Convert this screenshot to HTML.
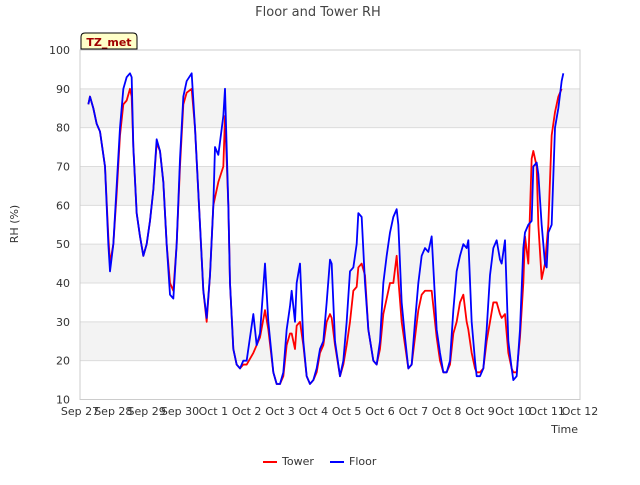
<!DOCTYPE html>
<html><head><meta charset="utf-8"><style>
body{margin:0;background:#fff;font-family:"Liberation Sans","DejaVu Sans",sans-serif;}
svg text{font-family:"DejaVu Sans","Liberation Sans",sans-serif;}
</style></head><body>
<svg id="c" width="640" height="480"></svg>
<script>
const times=[0.25,0.3,0.4,0.5,0.6,0.75,0.85,0.9,1.0,1.1,1.2,1.3,1.4,1.5,1.55,1.6,1.7,1.8,1.9,2.0,2.1,2.2,2.3,2.4,2.5,2.6,2.7,2.8,2.9,3.0,3.1,3.2,3.35,3.45,3.6,3.7,3.8,3.9,4.0,4.05,4.15,4.3,4.35,4.45,4.5,4.6,4.7,4.8,4.9,5.0,5.2,5.3,5.4,5.55,5.65,5.8,5.9,6.0,6.1,6.2,6.3,6.35,6.45,6.5,6.6,6.7,6.8,6.9,7.0,7.1,7.2,7.3,7.4,7.5,7.55,7.65,7.8,7.9,8.0,8.1,8.2,8.3,8.35,8.45,8.55,8.65,8.8,8.9,9.0,9.1,9.2,9.3,9.4,9.5,9.55,9.65,9.75,9.85,9.95,10.05,10.15,10.25,10.35,10.45,10.55,10.6,10.7,10.8,10.9,11.0,11.1,11.2,11.3,11.4,11.5,11.6,11.65,11.75,11.85,11.9,12.0,12.1,12.2,12.3,12.4,12.5,12.6,12.65,12.75,12.85,12.95,13.0,13.1,13.2,13.3,13.35,13.45,13.55,13.6,13.7,13.75,13.85,13.95,14.0,14.05,14.15,14.25,14.35,14.45,14.5];
const floor=[86,88,85,81,79,70,50,43,50,65,80,90,93,94,93,75,58,52,47,50,56,64,77,74,66,50,37,36,50,72,88,92,94,80,55,38,31,42,60,75,73,83,90,60,40,23,19,18,20,20,32,24,27,45,30,17,14,14,17,28,34,38,30,40,45,25,16,14,15,18,23,25,35,46,45,25,16,20,30,43,44,50,58,57,40,28,20,19,25,40,47,53,57,59,55,35,26,18,19,30,40,47,49,48,52,44,28,22,17,17,20,33,43,47,50,49,51,30,20,16,16,18,28,42,49,51,46,45,51,25,18,15,16,28,49,53,55,56,70,71,68,55,45,44,53,55,80,85,92,94];
const tower=[86,88,85,81,79,70,52,45,50,63,78,86,87,90,88,75,58,52,47,50,56,64,76,74,66,50,40,38,50,70,86,89,90,80,55,38,30,42,60,62,66,70,83,60,40,23,19,18,19,19,22,24,26,33,28,17,14,14,16,24,27,27,23,29,30,24,16,14,15,17,22,24,30,32,31,24,16,19,24,30,38,39,44,45,42,28,20,19,23,32,36,40,40,47,41,30,24,18,19,26,33,37,38,38,38,34,26,20,17,17,19,27,30,35,37,30,28,22,18,17,17,18,25,30,35,35,32,31,32,22,18,17,17,26,40,52,45,72,74,70,55,41,45,50,55,78,84,88,90];
const xTicks=["Sep 27","Sep 28","Sep 29","Sep 30","Oct 1","Oct 2","Oct 3","Oct 4","Oct 5","Oct 6","Oct 7","Oct 8","Oct 9","Oct 10","Oct 11","Oct 12"];
const yTicks=[10,20,30,40,50,60,70,80,90,100];
const NS="http://www.w3.org/2000/svg";
const svg=document.getElementById('c');
const L=80,R=580,T=50,B=399.5;
const xs=d=>L+(R-L)*d/15;
const ys=v=>B-(B-T)*(v-10)/90;
function mk(t,a,p){const e=document.createElementNS(NS,t);for(const k in a)e.setAttribute(k,a[k]);(p||svg).appendChild(e);return e;}
for(let i=1;i<yTicks.length-1;i+=2){
  const band=mk('rect',{x:L,y:ys(yTicks[i+1]),width:R-L,height:ys(yTicks[i])-ys(yTicks[i+1]),fill:'#f3f3f3'});
  
  
}
yTicks.forEach(v=>{
  const g=mk('line',{x1:L,x2:R,y1:ys(v),y2:ys(v),stroke:'#dcdcdc'});
  
  
  const t=mk('text',{x:L-10,y:ys(v)+4,'text-anchor':'end','font-size':11,fill:'#333'});t.textContent=v;
  
  
});
xTicks.forEach((s,i)=>{
  const t=mk('text',{x:xs(i),y:415,'text-anchor':'middle','font-size':11,fill:'#333'});t.textContent=s;
  
  
});
const frame=mk('rect',{x:L,y:T,width:R-L,height:B-T,fill:'none',stroke:'#ccc'});


function series(vals,col,name){
  const p=mk('polyline',{points:times.map((d,i)=>xs(d)+','+ys(vals[i])).join(' '),fill:'none',stroke:col,'stroke-width':1.8,'stroke-linejoin':'round'});
  
  
}
series(tower,'#ff0000','tower-line');
series(floor,'#0000ff','floor-line');
</script>
<svg width="640" height="480" style="position:absolute;left:0;top:0;pointer-events:none">
<text x="318" y="16" text-anchor="middle" font-size="13" fill="#444">Floor and Tower RH</text>
<text x="18" y="224" text-anchor="middle" font-size="11" fill="#333" transform="rotate(-90 18 224)">RH (%)</text>
<text x="578" y="433" text-anchor="end" font-size="11" fill="#333">Time</text>
<g><path d="M81 49 L81 37 Q81 33 85 33 L133 33 Q137 33 137 37 L137 49 Z" fill="#ffffc8" stroke="#000"/><text x="109" y="46" text-anchor="middle" font-size="11" font-weight="bold" fill="#a00000">TZ_met</text></g>
<g><line x1="263" x2="277" y1="462" y2="462" stroke="#f00" stroke-width="2"/><text x="282" y="465" font-size="11" fill="#333">Tower</text></g>
<g><line x1="330" x2="344" y1="462" y2="462" stroke="#00f" stroke-width="2"/><text x="349" y="465" font-size="11" fill="#333">Floor</text></g>
</svg>
</body></html>
